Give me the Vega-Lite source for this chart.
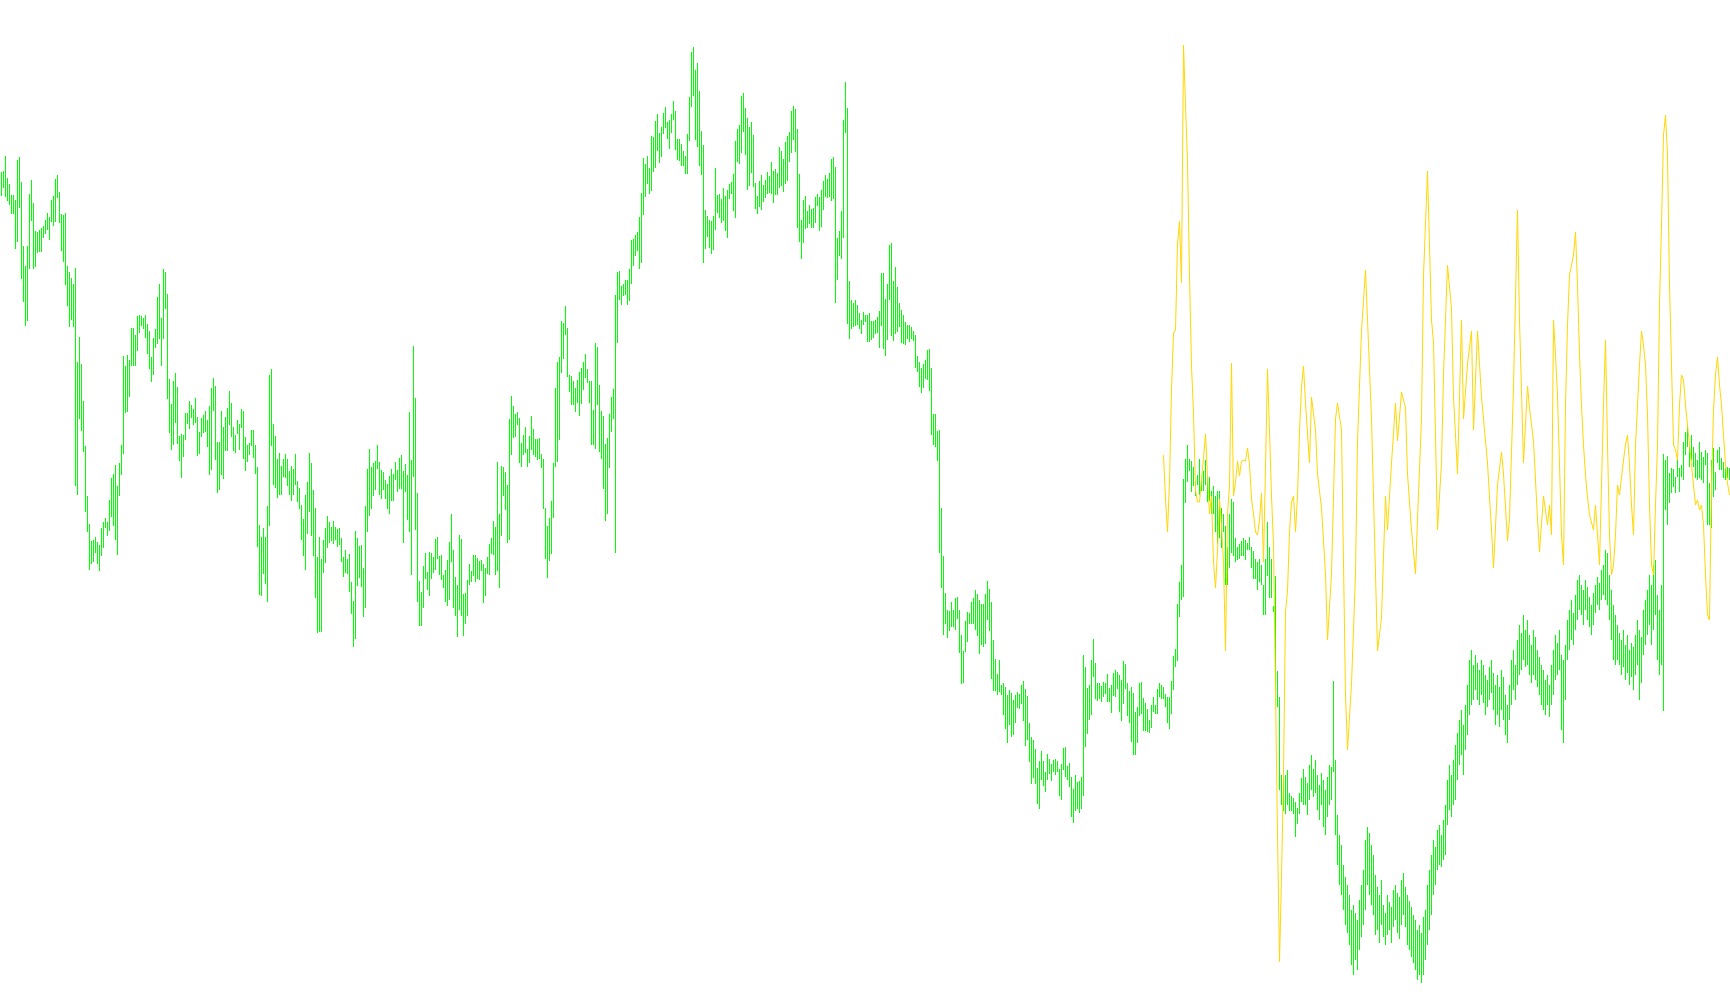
{
"$schema": "https://vega.github.io/schema/vega-lite/v6.json",
"width": 1730, "height": 1005,
"autosize": {"type": "none"},
"padding": 0,
"background": "white",
"config": {"view": {"stroke": null}},
"datasets": {
"bars": [
{"i":0,"h":833,"l":809},{"i":1,"h":834,"l":817},{"i":2,"h":849,"l":808},{"i":3,"h":827,"l":804},{"i":4,"h":821,"l":800},{"i":5,"h":810,"l":791},{"i":6,"h":810,"l":791},{"i":7,"h":805,"l":756},{"i":8,"h":845,"l":763},{"i":9,"h":848,"l":797},
{"i":10,"h":823,"l":726},{"i":11,"h":759,"l":703},{"i":12,"h":739,"l":679},{"i":13,"h":759,"l":684},{"i":14,"h":811,"l":736},{"i":15,"h":825,"l":784},{"i":16,"h":802,"l":736},{"i":17,"h":774,"l":738},{"i":18,"h":773,"l":752},{"i":19,"h":775,"l":753},
{"i":20,"h":777,"l":753},{"i":21,"h":779,"l":767},{"i":22,"h":785,"l":771},{"i":23,"h":792,"l":775},{"i":24,"h":788,"l":765},{"i":25,"h":805,"l":783},{"i":26,"h":809,"l":779},{"i":27,"h":826,"l":783},{"i":28,"h":830,"l":807},{"i":29,"h":813,"l":782},
{"i":30,"h":791,"l":754},{"i":31,"h":790,"l":743},{"i":32,"h":792,"l":720},{"i":33,"h":739,"l":699},{"i":34,"h":733,"l":678},{"i":35,"h":727,"l":685},{"i":36,"h":721,"l":678},{"i":37,"h":737,"l":519},{"i":38,"h":643,"l":510},{"i":39,"h":668,"l":586},
{"i":40,"h":641,"l":574},{"i":41,"h":604,"l":553},{"i":42,"h":559,"l":493},{"i":43,"h":509,"l":473},{"i":44,"h":481,"l":435},{"i":45,"h":464,"l":441},{"i":46,"h":465,"l":443},{"i":47,"h":468,"l":452},{"i":48,"h":463,"l":441},{"i":49,"h":460,"l":434},
{"i":50,"h":477,"l":449},{"i":51,"h":483,"l":457},{"i":52,"h":487,"l":477},{"i":53,"h":483,"l":469},{"i":54,"h":505,"l":474},{"i":55,"h":527,"l":488},{"i":56,"h":531,"l":479},{"i":57,"h":540,"l":465},{"i":58,"h":519,"l":450},{"i":59,"h":542,"l":509},
{"i":60,"h":560,"l":530},{"i":61,"h":649,"l":551},{"i":62,"h":639,"l":592},{"i":63,"h":650,"l":593},{"i":64,"h":645,"l":608},{"i":65,"h":677,"l":639},{"i":66,"h":677,"l":639},{"i":67,"h":670,"l":639},{"i":68,"h":689,"l":654},{"i":69,"h":690,"l":672},
{"i":70,"h":689,"l":679},{"i":71,"h":687,"l":676},{"i":72,"h":690,"l":667},{"i":73,"h":681,"l":651},{"i":74,"h":674,"l":636},{"i":75,"h":648,"l":623},{"i":76,"h":667,"l":630},{"i":77,"h":676,"l":657},{"i":78,"h":708,"l":661},{"i":79,"h":721,"l":666},
{"i":80,"h":687,"l":639},{"i":81,"h":736,"l":666},{"i":82,"h":733,"l":696},{"i":83,"h":711,"l":606},{"i":84,"h":626,"l":572},{"i":85,"h":601,"l":555},{"i":86,"h":624,"l":560},{"i":87,"h":632,"l":582},{"i":88,"h":618,"l":561},{"i":89,"h":569,"l":544},
{"i":90,"h":571,"l":527},{"i":91,"h":570,"l":548},{"i":92,"h":592,"l":565},{"i":93,"h":592,"l":581},{"i":94,"h":604,"l":576},{"i":95,"h":600,"l":587},{"i":96,"h":596,"l":580},{"i":97,"h":607,"l":582},{"i":98,"h":588,"l":549},{"i":99,"h":573,"l":551},
{"i":100,"h":587,"l":568},{"i":101,"h":590,"l":572},{"i":102,"h":594,"l":573},{"i":103,"h":585,"l":558},{"i":104,"h":599,"l":530},{"i":105,"h":617,"l":535},{"i":106,"h":627,"l":594},{"i":107,"h":619,"l":545},{"i":108,"h":563,"l":512},{"i":109,"h":563,"l":515},
{"i":110,"h":594,"l":530},{"i":111,"h":578,"l":526},{"i":112,"h":588,"l":554},{"i":113,"h":597,"l":554},{"i":114,"h":614,"l":580},{"i":115,"h":602,"l":568},{"i":116,"h":578,"l":554},{"i":117,"h":570,"l":552},{"i":118,"h":585,"l":571},{"i":119,"h":581,"l":555},
{"i":120,"h":596,"l":577},{"i":121,"h":594,"l":546},{"i":122,"h":568,"l":534},{"i":123,"h":560,"l":543},{"i":124,"h":562,"l":550},{"i":125,"h":575,"l":559},{"i":126,"h":575,"l":547},{"i":127,"h":560,"l":531},{"i":128,"h":538,"l":458},{"i":129,"h":480,"l":410},
{"i":130,"h":468,"l":409},{"i":131,"h":477,"l":431},{"i":132,"h":468,"l":421},{"i":133,"h":499,"l":403},{"i":134,"h":630,"l":479},{"i":135,"h":636,"l":559},{"i":136,"h":581,"l":520},{"i":137,"h":569,"l":517},{"i":138,"h":546,"l":507},{"i":139,"h":552,"l":510},
{"i":140,"h":539,"l":510},{"i":141,"h":546,"l":528},{"i":142,"h":551,"l":527},{"i":143,"h":546,"l":519},{"i":144,"h":534,"l":510},{"i":145,"h":539,"l":504},{"i":146,"h":536,"l":510},{"i":147,"h":551,"l":520},{"i":148,"h":524,"l":503},{"i":149,"h":517,"l":496},
{"i":150,"h":500,"l":465},{"i":151,"h":486,"l":449},{"i":152,"h":510,"l":435},{"i":153,"h":523,"l":471},{"i":154,"h":552,"l":493},{"i":155,"h":542,"l":469},{"i":156,"h":515,"l":449},{"i":157,"h":497,"l":407},{"i":158,"h":448,"l":372},{"i":159,"h":468,"l":373},
{"i":160,"h":446,"l":373},{"i":161,"h":465,"l":432},{"i":162,"h":477,"l":442},{"i":163,"h":489,"l":457},{"i":164,"h":483,"l":462},{"i":165,"h":478,"l":464},{"i":166,"h":484,"l":461},{"i":167,"h":478,"l":465},{"i":168,"h":476,"l":458},{"i":169,"h":477,"l":460},
{"i":170,"h":467,"l":443},{"i":171,"h":448,"l":428},{"i":172,"h":455,"l":432},{"i":173,"h":446,"l":431},{"i":174,"h":451,"l":413},{"i":175,"h":423,"l":391},{"i":176,"h":404,"l":358},{"i":177,"h":474,"l":366},{"i":178,"h":467,"l":419},{"i":179,"h":459,"l":427},
{"i":180,"h":460,"l":418},{"i":181,"h":437,"l":388},{"i":182,"h":499,"l":397},{"i":183,"h":536,"l":473},{"i":184,"h":556,"l":489},{"i":185,"h":538,"l":496},{"i":186,"h":542,"l":509},{"i":187,"h":544,"l":515},{"i":188,"h":560,"l":536},{"i":189,"h":543,"l":510},
{"i":190,"h":535,"l":506},{"i":191,"h":533,"l":515},{"i":192,"h":525,"l":506},{"i":193,"h":521,"l":496},{"i":194,"h":529,"l":491},{"i":195,"h":536,"l":504},{"i":196,"h":531,"l":504},{"i":197,"h":543,"l":525},{"i":198,"h":535,"l":513},{"i":199,"h":547,"l":516},
{"i":200,"h":550,"l":516},{"i":201,"h":534,"l":462},{"i":202,"h":541,"l":513},{"i":203,"h":530,"l":485},{"i":204,"h":593,"l":473},{"i":205,"h":545,"l":430},{"i":206,"h":659,"l":528},{"i":207,"h":607,"l":475},{"i":208,"h":512,"l":403},{"i":209,"h":424,"l":379},
{"i":210,"h":413,"l":379},{"i":211,"h":439,"l":397},{"i":212,"h":452,"l":426},{"i":213,"h":433,"l":415},{"i":214,"h":453,"l":409},{"i":215,"h":452,"l":426},{"i":216,"h":448,"l":432},{"i":217,"h":466,"l":435},{"i":218,"h":468,"l":446},{"i":219,"h":449,"l":430},
{"i":220,"h":450,"l":425},{"i":221,"h":430,"l":417},{"i":222,"h":435,"l":403},{"i":223,"h":445,"l":399},{"i":224,"h":463,"l":405},{"i":225,"h":491,"l":443},{"i":226,"h":455,"l":397},{"i":227,"h":428,"l":389},{"i":228,"h":420,"l":368},{"i":229,"h":470,"l":395},
{"i":230,"h":466,"l":389},{"i":231,"h":411,"l":369},{"i":232,"h":412,"l":381},{"i":233,"h":425,"l":389},{"i":234,"h":441,"l":420},{"i":235,"h":434,"l":423},{"i":236,"h":450,"l":429},{"i":237,"h":450,"l":423},{"i":238,"h":447,"l":426},{"i":239,"h":444,"l":425},
{"i":240,"h":445,"l":434},{"i":241,"h":441,"l":402},{"i":242,"h":437,"l":409},{"i":243,"h":448,"l":431},{"i":244,"h":461,"l":430},{"i":245,"h":467,"l":451},{"i":246,"h":484,"l":450},{"i":247,"h":478,"l":430},{"i":248,"h":543,"l":434},{"i":249,"h":491,"l":417},
{"i":250,"h":539,"l":469},{"i":251,"h":538,"l":509},{"i":252,"h":533,"l":495},{"i":253,"h":520,"l":462},{"i":254,"h":586,"l":465},{"i":255,"h":609,"l":550},{"i":256,"h":599,"l":567},{"i":257,"h":591,"l":568},{"i":258,"h":593,"l":580},{"i":259,"h":587,"l":542},
{"i":260,"h":562,"l":538},{"i":261,"h":570,"l":550},{"i":262,"h":578,"l":552},{"i":263,"h":556,"l":538},{"i":264,"h":569,"l":542},{"i":265,"h":589,"l":555},{"i":266,"h":576,"l":550},{"i":267,"h":566,"l":548},{"i":268,"h":566,"l":545},{"i":269,"h":567,"l":546},
{"i":270,"h":551,"l":537},{"i":271,"h":546,"l":496},{"i":272,"h":497,"l":446},{"i":273,"h":479,"l":427},{"i":274,"h":487,"l":444},{"i":275,"h":504,"l":451},{"i":276,"h":542,"l":487},{"i":277,"h":617,"l":538},{"i":278,"h":643,"l":543},{"i":279,"h":648,"l":565},
{"i":280,"h":684,"l":632},{"i":281,"h":682,"l":646},{"i":282,"h":699,"l":670},{"i":283,"h":677,"l":628},{"i":284,"h":630,"l":613},{"i":285,"h":629,"l":600},{"i":286,"h":624,"l":600},{"i":287,"h":617,"l":593},{"i":288,"h":625,"l":602},{"i":289,"h":633,"l":589},
{"i":290,"h":637,"l":601},{"i":291,"h":643,"l":615},{"i":292,"h":651,"l":627},{"i":293,"h":636,"l":622},{"i":294,"h":624,"l":602},{"i":295,"h":624,"l":560},{"i":296,"h":595,"l":560},{"i":297,"h":662,"l":556},{"i":298,"h":658,"l":600},{"i":299,"h":620,"l":553},
{"i":300,"h":594,"l":546},{"i":301,"h":589,"l":516},{"i":302,"h":561,"l":484},{"i":303,"h":567,"l":491},{"i":304,"h":591,"l":537},{"i":305,"h":608,"l":573},{"i":306,"h":616,"l":586},{"i":307,"h":710,"l":452},{"i":308,"h":733,"l":662},{"i":309,"h":734,"l":705},
{"i":310,"h":719,"l":700},{"i":311,"h":721,"l":709},{"i":312,"h":725,"l":710},{"i":313,"h":725,"l":700},{"i":314,"h":736,"l":704},{"i":315,"h":765,"l":721},{"i":316,"h":766,"l":739},{"i":317,"h":770,"l":749},{"i":318,"h":773,"l":754},{"i":319,"h":788,"l":736},
{"i":320,"h":812,"l":742},{"i":321,"h":847,"l":790},{"i":322,"h":841,"l":808},{"i":323,"h":849,"l":821},{"i":324,"h":837,"l":811},{"i":325,"h":869,"l":814},{"i":326,"h":868,"l":833},{"i":327,"h":884,"l":837},{"i":328,"h":891,"l":854},{"i":329,"h":872,"l":842},
{"i":330,"h":878,"l":848},{"i":331,"h":892,"l":871},{"i":332,"h":898,"l":877},{"i":333,"h":883,"l":866},{"i":334,"h":885,"l":856},{"i":335,"h":891,"l":872},{"i":336,"h":904,"l":885},{"i":337,"h":894,"l":855},{"i":338,"h":866,"l":845},{"i":339,"h":866,"l":844},
{"i":340,"h":861,"l":839},{"i":341,"h":854,"l":839},{"i":342,"h":849,"l":831},{"i":343,"h":871,"l":831},{"i":344,"h":908,"l":864},{"i":345,"h":953,"l":898},{"i":346,"h":958,"l":909},{"i":347,"h":935,"l":865},{"i":348,"h":942,"l":858},{"i":349,"h":914,"l":839},
{"i":350,"h":874,"l":830},{"i":351,"h":860,"l":742},{"i":352,"h":795,"l":756},{"i":353,"h":789,"l":768},{"i":354,"h":785,"l":757},{"i":355,"h":784,"l":751},{"i":356,"h":789,"l":755},{"i":357,"h":837,"l":775},{"i":358,"h":810,"l":792},{"i":359,"h":811,"l":787},
{"i":360,"h":806,"l":782},{"i":361,"h":817,"l":784},{"i":362,"h":809,"l":774},{"i":363,"h":815,"l":767},{"i":364,"h":821,"l":806},{"i":365,"h":823,"l":811},{"i":366,"h":831,"l":794},{"i":367,"h":864,"l":787},{"i":368,"h":876,"l":843},{"i":369,"h":880,"l":841},
{"i":370,"h":909,"l":852},{"i":371,"h":912,"l":873},{"i":372,"h":897,"l":850},{"i":373,"h":887,"l":815},{"i":374,"h":878,"l":819},{"i":375,"h":883,"l":832},{"i":376,"h":870,"l":818},{"i":377,"h":822,"l":796},{"i":378,"h":809,"l":791},{"i":379,"h":824,"l":798},
{"i":380,"h":830,"l":795},{"i":381,"h":820,"l":803},{"i":382,"h":825,"l":807},{"i":383,"h":833,"l":811},{"i":384,"h":829,"l":812},{"i":385,"h":843,"l":811},{"i":386,"h":834,"l":802},{"i":387,"h":836,"l":810},{"i":388,"h":832,"l":810},{"i":389,"h":858,"l":817},
{"i":390,"h":854,"l":819},{"i":391,"h":846,"l":813},{"i":392,"h":863,"l":821},{"i":393,"h":869,"l":824},{"i":394,"h":873,"l":843},{"i":395,"h":894,"l":852},{"i":396,"h":899,"l":865},{"i":397,"h":896,"l":853},{"i":398,"h":876,"l":777},{"i":399,"h":831,"l":763},
{"i":400,"h":785,"l":746},{"i":401,"h":805,"l":762},{"i":402,"h":809,"l":776},{"i":403,"h":794,"l":777},{"i":404,"h":800,"l":781},{"i":405,"h":796,"l":777},{"i":406,"h":797,"l":777},{"i":407,"h":808,"l":782},{"i":408,"h":811,"l":799},{"i":409,"h":808,"l":774},
{"i":410,"h":815,"l":778},{"i":411,"h":824,"l":795},{"i":412,"h":830,"l":808},{"i":413,"h":826,"l":807},{"i":414,"h":832,"l":808},{"i":415,"h":846,"l":804},{"i":416,"h":848,"l":806},{"i":417,"h":838,"l":702},{"i":418,"h":767,"l":725},{"i":419,"h":774,"l":749},
{"i":420,"h":794,"l":746},{"i":421,"h":885,"l":767},{"i":422,"h":923,"l":872},{"i":423,"h":897,"l":681},{"i":424,"h":724,"l":666},{"i":425,"h":705,"l":676},{"i":426,"h":702,"l":678},{"i":427,"h":705,"l":679},{"i":428,"h":700,"l":680},{"i":429,"h":692,"l":676},
{"i":430,"h":685,"l":671},{"i":431,"h":693,"l":680},{"i":432,"h":690,"l":683},{"i":433,"h":690,"l":663},{"i":434,"h":692,"l":663},{"i":435,"h":684,"l":665},{"i":436,"h":684,"l":667},{"i":437,"h":685,"l":671},{"i":438,"h":688,"l":672},{"i":439,"h":694,"l":657},
{"i":440,"h":732,"l":679},{"i":441,"h":732,"l":656},{"i":442,"h":706,"l":649},{"i":443,"h":721,"l":665},{"i":444,"h":760,"l":705},{"i":445,"h":762,"l":669},{"i":446,"h":724,"l":664},{"i":447,"h":738,"l":671},{"i":448,"h":718,"l":673},{"i":449,"h":702,"l":678},
{"i":450,"h":695,"l":662},{"i":451,"h":690,"l":661},{"i":452,"h":683,"l":660},{"i":453,"h":680,"l":666},{"i":454,"h":680,"l":663},{"i":455,"h":678,"l":666},{"i":456,"h":674,"l":664},{"i":457,"h":670,"l":637},{"i":458,"h":649,"l":633},{"i":459,"h":643,"l":618},
{"i":460,"h":637,"l":612},{"i":461,"h":641,"l":617},{"i":462,"h":645,"l":626},{"i":463,"h":655,"l":625},{"i":464,"h":656,"l":614},{"i":465,"h":637,"l":570},{"i":466,"h":591,"l":560},{"i":467,"h":591,"l":558},{"i":468,"h":574,"l":544},{"i":469,"h":575,"l":452},
{"i":470,"h":497,"l":417},{"i":471,"h":449,"l":370},{"i":472,"h":412,"l":381},{"i":473,"h":395,"l":367},{"i":474,"h":394,"l":374},{"i":475,"h":403,"l":378},{"i":476,"h":395,"l":378},{"i":477,"h":407,"l":375},{"i":478,"h":408,"l":386},{"i":479,"h":395,"l":352},
{"i":480,"h":370,"l":321},{"i":481,"h":354,"l":322},{"i":482,"h":384,"l":353},{"i":483,"h":393,"l":363},{"i":484,"h":392,"l":381},{"i":485,"h":403,"l":381},{"i":486,"h":407,"l":381},{"i":487,"h":415,"l":375},{"i":488,"h":411,"l":369},{"i":489,"h":405,"l":351},
{"i":490,"h":401,"l":360},{"i":491,"h":401,"l":358},{"i":492,"h":411,"l":361},{"i":493,"h":424,"l":385},{"i":494,"h":416,"l":374},{"i":495,"h":403,"l":326},{"i":496,"h":365,"l":314},{"i":497,"h":346,"l":314},{"i":498,"h":331,"l":310},{"i":499,"h":345,"l":313},
{"i":500,"h":320,"l":310},{"i":501,"h":322,"l":290},{"i":502,"h":318,"l":276},{"i":503,"h":310,"l":262},{"i":504,"h":315,"l":280},{"i":505,"h":312,"l":268},{"i":506,"h":305,"l":270},{"i":507,"h":310,"l":282},{"i":508,"h":313,"l":297},{"i":509,"h":311,"l":296},
{"i":510,"h":320,"l":301},{"i":511,"h":324,"l":284},{"i":512,"h":316,"l":259},{"i":513,"h":309,"l":265},{"i":514,"h":282,"l":243},{"i":515,"h":268,"l":221},{"i":516,"h":265,"l":227},{"i":517,"h":256,"l":221},{"i":518,"h":237,"l":201},{"i":519,"h":244,"l":196},
{"i":520,"h":254,"l":225},{"i":521,"h":244,"l":219},{"i":522,"h":233,"l":213},{"i":523,"h":251,"l":225},{"i":524,"h":246,"l":231},{"i":525,"h":241,"l":224},{"i":526,"h":245,"l":233},{"i":527,"h":246,"l":230},{"i":528,"h":244,"l":233},{"i":529,"h":236,"l":209},
{"i":530,"h":241,"l":205},{"i":531,"h":257,"l":235},{"i":532,"h":258,"l":228},{"i":533,"h":239,"l":225},{"i":534,"h":242,"l":218},{"i":535,"h":228,"l":188},{"i":536,"h":216,"l":182},{"i":537,"h":230,"l":194},{"i":538,"h":223,"l":196},{"i":539,"h":224,"l":192},
{"i":540,"h":228,"l":196},{"i":541,"h":350,"l":209},{"i":542,"h":338,"l":258},{"i":543,"h":317,"l":271},{"i":544,"h":320,"l":285},{"i":545,"h":345,"l":290},{"i":546,"h":366,"l":328},{"i":547,"h":342,"l":306},{"i":548,"h":322,"l":304},{"i":549,"h":322,"l":306},
{"i":550,"h":319,"l":303},{"i":551,"h":323,"l":308},{"i":552,"h":322,"l":311},{"i":553,"h":331,"l":303},{"i":554,"h":317,"l":303},{"i":555,"h":320,"l":292},{"i":556,"h":332,"l":309},{"i":557,"h":335,"l":308},{"i":558,"h":333,"l":316},{"i":559,"h":330,"l":293},
{"i":560,"h":325,"l":284},{"i":561,"h":344,"l":301},{"i":562,"h":341,"l":316},{"i":563,"h":322,"l":289},{"i":564,"h":314,"l":282},{"i":565,"h":318,"l":263},{"i":566,"h":312,"l":250},{"i":567,"h":293,"l":250},{"i":568,"h":298,"l":262},{"i":569,"h":322,"l":289},
{"i":570,"h":323,"l":291},{"i":571,"h":307,"l":274},{"i":572,"h":302,"l":274},{"i":573,"h":296,"l":273},{"i":574,"h":285,"l":272},{"i":575,"h":300,"l":277},{"i":576,"h":308,"l":293},{"i":577,"h":300,"l":291},{"i":578,"h":316,"l":291},{"i":579,"h":322,"l":308},
{"i":580,"h":320,"l":306},{"i":581,"h":318,"l":306},{"i":582,"h":311,"l":298},{"i":583,"h":308,"l":282},{"i":584,"h":308,"l":276},{"i":585,"h":324,"l":291},{"i":586,"h":349,"l":315},{"i":587,"h":356,"l":338},{"i":588,"h":401,"l":344},{"i":589,"h":423,"l":388},
{"i":590,"h":440,"l":405},{"i":591,"h":526,"l":408},{"i":592,"h":546,"l":502},{"i":593,"h":560,"l":523},{"i":594,"h":546,"l":534},{"i":595,"h":544,"l":513},{"i":596,"h":538,"l":519},{"i":597,"h":523,"l":509},{"i":598,"h":530,"l":520},{"i":599,"h":546,"l":510},
{"i":600,"h":526,"l":514},{"i":601,"h":534,"l":514},{"i":602,"h":545,"l":520},{"i":603,"h":529,"l":503},{"i":604,"h":528,"l":504},{"i":605,"h":514,"l":491},{"i":606,"h":519,"l":491},{"i":607,"h":509,"l":473},{"i":608,"h":514,"l":461},{"i":609,"h":514,"l":467},
{"i":610,"h":497,"l":457},{"i":611,"h":491,"l":473},{"i":612,"h":479,"l":420},{"i":613,"h":458,"l":420},{"i":614,"h":491,"l":437},{"i":615,"h":506,"l":452},{"i":616,"h":503,"l":449},{"i":617,"h":467,"l":443},{"i":618,"h":458,"l":445},{"i":619,"h":461,"l":446},
{"i":620,"h":464,"l":449},{"i":621,"h":467,"l":449},{"i":622,"h":465,"l":445},{"i":623,"h":462,"l":455},{"i":624,"h":468,"l":455},{"i":625,"h":458,"l":437},{"i":626,"h":454,"l":426},{"i":627,"h":446,"l":426},{"i":628,"h":443,"l":415},{"i":629,"h":446,"l":423},
{"i":630,"h":440,"l":420},{"i":631,"h":420,"l":390},{"i":632,"h":446,"l":390},{"i":633,"h":483,"l":429},{"i":634,"h":458,"l":407},{"i":635,"h":446,"l":407},{"i":636,"h":399,"l":393},{"i":637,"h":429,"l":319},{"i":638,"h":334,"l":298},{"i":639,"h":308,"l":215},
{"i":640,"h":230,"l":200},{"i":641,"h":230,"l":194},{"i":642,"h":230,"l":191},{"i":643,"h":235,"l":200},{"i":644,"h":212,"l":194},{"i":645,"h":209,"l":194},{"i":646,"h":207,"l":191},{"i":647,"h":203,"l":168},{"i":648,"h":197,"l":181},{"i":649,"h":212,"l":191},
{"i":650,"h":227,"l":203},{"i":651,"h":236,"l":200},{"i":652,"h":228,"l":200},{"i":653,"h":222,"l":190},{"i":654,"h":240,"l":205},{"i":655,"h":250,"l":215},{"i":656,"h":236,"l":208},{"i":657,"h":245,"l":212},{"i":658,"h":230,"l":195},{"i":659,"h":220,"l":185},
{"i":660,"h":232,"l":200},{"i":661,"h":225,"l":178},{"i":662,"h":215,"l":170},{"i":663,"h":228,"l":188},{"i":664,"h":240,"l":200},{"i":665,"h":238,"l":205},{"i":666,"h":324,"l":233},{"i":667,"h":245,"l":170},{"i":668,"h":190,"l":140},{"i":669,"h":170,"l":120},
{"i":670,"h":160,"l":110},{"i":671,"h":140,"l":95},{"i":672,"h":128,"l":80},{"i":673,"h":120,"l":72},{"i":674,"h":110,"l":60},{"i":675,"h":95,"l":40},{"i":676,"h":100,"l":30},{"i":677,"h":92,"l":45},{"i":678,"h":85,"l":35},{"i":679,"h":105,"l":55},
{"i":680,"h":120,"l":68},{"i":681,"h":135,"l":80},{"i":682,"h":165,"l":95},{"i":683,"h":178,"l":120},{"i":684,"h":172,"l":110},{"i":685,"h":160,"l":100},{"i":686,"h":150,"l":90},{"i":687,"h":130,"l":70},{"i":688,"h":118,"l":75},{"i":689,"h":110,"l":62},
{"i":690,"h":125,"l":80},{"i":691,"h":100,"l":68},{"i":692,"h":92,"l":60},{"i":693,"h":110,"l":70},{"i":694,"h":103,"l":75},{"i":695,"h":98,"l":62},{"i":696,"h":115,"l":78},{"i":697,"h":120,"l":85},{"i":698,"h":112,"l":72},{"i":699,"h":108,"l":66},
{"i":700,"h":125,"l":80},{"i":701,"h":132,"l":90},{"i":702,"h":118,"l":78},{"i":703,"h":110,"l":60},{"i":704,"h":104,"l":55},{"i":705,"h":98,"l":48},{"i":706,"h":90,"l":42},{"i":707,"h":85,"l":35},{"i":708,"h":75,"l":25},{"i":709,"h":80,"l":30},
{"i":710,"h":72,"l":22},{"i":711,"h":88,"l":30},{"i":712,"h":95,"l":45},{"i":713,"h":120,"l":60},{"i":714,"h":135,"l":75},{"i":715,"h":150,"l":90},{"i":716,"h":165,"l":110},{"i":717,"h":158,"l":120},{"i":718,"h":175,"l":135},{"i":719,"h":180,"l":140},
{"i":720,"h":170,"l":138},{"i":721,"h":185,"l":145},{"i":722,"h":200,"l":150},{"i":723,"h":225,"l":180},{"i":724,"h":240,"l":195},{"i":725,"h":230,"l":188},{"i":726,"h":245,"l":200},{"i":727,"h":260,"l":205},{"i":728,"h":272,"l":225},{"i":729,"h":285,"l":240},
{"i":730,"h":295,"l":250},{"i":731,"h":280,"l":230},{"i":732,"h":300,"l":255},{"i":733,"h":320,"l":270},{"i":734,"h":345,"l":290},{"i":735,"h":355,"l":300},{"i":736,"h":340,"l":305},{"i":737,"h":350,"l":315},{"i":738,"h":342,"l":305},{"i":739,"h":335,"l":300},
{"i":740,"h":345,"l":310},{"i":741,"h":340,"l":302},{"i":742,"h":330,"l":290},{"i":743,"h":325,"l":298},{"i":744,"h":338,"l":305},{"i":745,"h":345,"l":312},{"i":746,"h":332,"l":295},{"i":747,"h":320,"l":280},{"i":748,"h":330,"l":290},{"i":749,"h":318,"l":278},
{"i":750,"h":335,"l":295},{"i":751,"h":328,"l":285},{"i":752,"h":310,"l":270},{"i":753,"h":300,"l":262},{"i":754,"h":320,"l":285},{"i":755,"h":345,"l":300},{"i":756,"h":355,"l":315},{"i":757,"h":340,"l":305},{"i":758,"h":365,"l":320},{"i":759,"h":380,"l":330},
{"i":760,"h":372,"l":335},{"i":761,"h":390,"l":345},{"i":762,"h":375,"l":338},{"i":763,"h":385,"l":340},{"i":764,"h":370,"l":330},{"i":765,"h":360,"l":322},{"i":766,"h":375,"l":330},{"i":767,"h":368,"l":325},{"i":768,"h":355,"l":318},{"i":769,"h":348,"l":310},
{"i":770,"h":340,"l":300},{"i":771,"h":335,"l":295},{"i":772,"h":325,"l":290},{"i":773,"h":330,"l":300},{"i":774,"h":320,"l":288},{"i":775,"h":340,"l":300},{"i":776,"h":355,"l":310},{"i":777,"h":370,"l":325},{"i":778,"h":362,"l":330},{"i":779,"h":375,"l":335},
{"i":780,"h":350,"l":275},{"i":781,"h":345,"l":262},{"i":782,"h":360,"l":305},{"i":783,"h":385,"l":345},{"i":784,"h":395,"l":355},{"i":785,"h":405,"l":365},{"i":786,"h":392,"l":360},{"i":787,"h":410,"l":375},{"i":788,"h":425,"l":385},{"i":789,"h":430,"l":395},
{"i":790,"h":420,"l":390},{"i":791,"h":415,"l":380},{"i":792,"h":425,"l":395},{"i":793,"h":418,"l":385},{"i":794,"h":408,"l":378},{"i":795,"h":400,"l":370},{"i":796,"h":412,"l":380},{"i":797,"h":420,"l":392},{"i":798,"h":428,"l":400},{"i":799,"h":422,"l":395},
{"i":800,"h":435,"l":405},{"i":801,"h":440,"l":410},{"i":802,"h":455,"l":405},{"i":803,"h":452,"l":400},{"i":804,"h":430,"l":385},{"i":805,"h":415,"l":365},{"i":806,"h":400,"l":345},{"i":807,"h":390,"l":340},{"i":808,"h":380,"l":345},{"i":809,"h":372,"l":340},
{"i":810,"h":365,"l":330},{"i":811,"h":375,"l":338},{"i":812,"h":360,"l":325},{"i":813,"h":370,"l":332},{"i":814,"h":355,"l":320},{"i":815,"h":362,"l":328},{"i":816,"h":358,"l":315},{"i":817,"h":370,"l":330},{"i":818,"h":385,"l":340},{"i":819,"h":375,"l":305},
{"i":820,"h":368,"l":322},{"i":821,"h":395,"l":350},{"i":822,"h":405,"l":360},{"i":823,"h":415,"l":370},{"i":824,"h":430,"l":380},{"i":825,"h":420,"l":360},{"i":826,"h":440,"l":375},{"i":827,"h":445,"l":390},{"i":828,"h":410,"l":345},{"i":829,"h":395,"l":330},
{"i":830,"h":420,"l":340},{"i":831,"h":551,"l":294},{"i":832,"h":545,"l":495},{"i":833,"h":549,"l":480},{"i":834,"h":532,"l":502},{"i":835,"h":537,"l":512},{"i":836,"h":536,"l":518},{"i":837,"h":528,"l":512},{"i":838,"h":545,"l":528},{"i":839,"h":537,"l":513},
{"i":840,"h":540,"l":528},{"i":841,"h":563,"l":525},{"i":842,"h":573,"l":550},{"i":843,"h":580,"l":558},{"i":844,"h":558,"l":538},{"i":845,"h":570,"l":545},{"i":846,"h":558,"l":538},{"i":847,"h":552,"l":527},{"i":848,"h":545,"l":525},{"i":849,"h":563,"l":527},
{"i":850,"h":553,"l":525},{"i":851,"h":548,"l":522},{"i":852,"h":555,"l":540},{"i":853,"h":552,"l":480},{"i":854,"h":522,"l":480},{"i":855,"h":545,"l":477},{"i":856,"h":557,"l":508},{"i":857,"h":533,"l":515},{"i":858,"h":555,"l":542},{"i":859,"h":558,"l":535},
{"i":860,"h":547,"l":535},{"i":861,"h":543,"l":527},{"i":862,"h":537,"l":525},{"i":863,"h":538,"l":527},{"i":864,"h":537,"l":525}
],
"line": [
{"i":581,"v":550},{"i":582,"v":506},{"i":583,"v":473},{"i":584,"v":523},{"i":585,"v":615},{"i":586,"v":672},{"i":587,"v":675},{"i":588,"v":760},{"i":589,"v":784},{"i":590,"v":722},
{"i":591,"v":960},{"i":592,"v":900},{"i":593,"v":843},{"i":594,"v":731},{"i":595,"v":639},{"i":596,"v":592},{"i":597,"v":515},{"i":598,"v":503},{"i":599,"v":503},{"i":600,"v":526},
{"i":601,"v":547},{"i":602,"v":571},{"i":603,"v":529},{"i":604,"v":491},{"i":605,"v":509},{"i":606,"v":443},{"i":607,"v":417},{"i":608,"v":455},{"i":609,"v":506},{"i":610,"v":479},
{"i":611,"v":443},{"i":612,"v":354},{"i":613,"v":491},{"i":614,"v":520},{"i":615,"v":642},{"i":616,"v":509},{"i":617,"v":523},{"i":618,"v":544},{"i":619,"v":529},{"i":620,"v":544},
{"i":621,"v":545},{"i":622,"v":544},{"i":623,"v":557},{"i":624,"v":541},{"i":625,"v":506},{"i":626,"v":491},{"i":627,"v":473},{"i":628,"v":470},{"i":629,"v":485},{"i":630,"v":512},
{"i":631,"v":443},{"i":632,"v":538},{"i":633,"v":636},{"i":634,"v":574},{"i":635,"v":509},{"i":636,"v":461},{"i":637,"v":313},{"i":638,"v":171},{"i":639,"v":43},{"i":640,"v":129},
{"i":641,"v":230},{"i":642,"v":393},{"i":643,"v":414},{"i":644,"v":473},{"i":645,"v":503},{"i":646,"v":509},{"i":647,"v":473},{"i":648,"v":509},{"i":649,"v":574},{"i":650,"v":618},
{"i":651,"v":639},{"i":652,"v":602},{"i":654,"v":542},{"i":655,"v":608},{"i":657,"v":575},{"i":658,"v":531},{"i":660,"v":497},{"i":662,"v":431},{"i":663,"v":365},{"i":665,"v":431},
{"i":667,"v":586},{"i":668,"v":602},{"i":670,"v":575},{"i":672,"v":310},{"i":673,"v":255},{"i":675,"v":321},{"i":677,"v":431},{"i":678,"v":564},{"i":680,"v":674},{"i":682,"v":735},
{"i":683,"v":685},{"i":685,"v":586},{"i":687,"v":431},{"i":688,"v":354},{"i":690,"v":387},{"i":692,"v":509},{"i":693,"v":475},{"i":695,"v":542},{"i":697,"v":602},{"i":698,"v":564},
{"i":700,"v":613},{"i":702,"v":597},{"i":703,"v":531},{"i":705,"v":475},{"i":707,"v":431},{"i":708,"v":486},{"i":710,"v":586},{"i":711,"v":729},{"i":713,"v":834},{"i":715,"v":685},
{"i":716,"v":663},{"i":718,"v":475},{"i":720,"v":542},{"i":721,"v":630},{"i":723,"v":740},{"i":725,"v":696},{"i":726,"v":608},{"i":728,"v":531},{"i":730,"v":685},{"i":731,"v":586},
{"i":733,"v":641},{"i":735,"v":674},{"i":736,"v":575},{"i":738,"v":674},{"i":740,"v":608},{"i":741,"v":586},{"i":743,"v":542},{"i":745,"v":475},{"i":746,"v":437},{"i":748,"v":520},
{"i":750,"v":553},{"i":751,"v":531},{"i":753,"v":464},{"i":754,"v":486},{"i":756,"v":619},{"i":758,"v":795},{"i":759,"v":685},{"i":761,"v":542},{"i":763,"v":619},{"i":764,"v":597},
{"i":766,"v":564},{"i":768,"v":486},{"i":769,"v":453},{"i":771,"v":509},{"i":773,"v":480},{"i":774,"v":500},{"i":775,"v":470},{"i":776,"v":685},{"i":777,"v":650},{"i":778,"v":610},
{"i":779,"v":540},{"i":780,"v":470},{"i":781,"v":440},{"i":782,"v":600},{"i":783,"v":680},{"i":784,"v":730},{"i":786,"v":750},{"i":787,"v":773},{"i":788,"v":720},{"i":789,"v":650},
{"i":790,"v":600},{"i":791,"v":560},{"i":792,"v":530},{"i":793,"v":508},{"i":794,"v":490},{"i":796,"v":475},{"i":797,"v":500},{"i":798,"v":470},{"i":799,"v":440},{"i":800,"v":520},
{"i":801,"v":600},{"i":802,"v":665},{"i":803,"v":560},{"i":804,"v":470},{"i":805,"v":430},{"i":806,"v":440},{"i":807,"v":470},{"i":808,"v":520},{"i":809,"v":510},{"i":811,"v":545},
{"i":812,"v":560},{"i":813,"v":570},{"i":814,"v":540},{"i":815,"v":500},{"i":816,"v":470},{"i":817,"v":560},{"i":818,"v":600},{"i":819,"v":640},{"i":820,"v":674},{"i":821,"v":660},
{"i":822,"v":640},{"i":823,"v":590},{"i":824,"v":500},{"i":825,"v":440},{"i":826,"v":430},{"i":827,"v":500},{"i":828,"v":560},{"i":829,"v":700},{"i":830,"v":780},{"i":831,"v":870},
{"i":832,"v":890},{"i":833,"v":850},{"i":834,"v":720},{"i":835,"v":640},{"i":836,"v":560},{"i":837,"v":555},{"i":838,"v":545},{"i":839,"v":600},{"i":840,"v":630},{"i":841,"v":625},
{"i":842,"v":600},{"i":843,"v":580},{"i":844,"v":560},{"i":845,"v":540},{"i":846,"v":520},{"i":847,"v":500},{"i":848,"v":505},{"i":849,"v":495},{"i":850,"v":500},{"i":851,"v":480},
{"i":852,"v":430},{"i":853,"v":390},{"i":854,"v":385},{"i":855,"v":520},{"i":856,"v":595},{"i":857,"v":630},{"i":858,"v":648},{"i":859,"v":620},{"i":860,"v":600},{"i":861,"v":570},
{"i":862,"v":540},{"i":863,"v":522},{"i":864,"v":510}
]
},
"layer": [
{
"data": {"name": "bars"},
"mark": {"type": "rule", "strokeWidth": 1, "color": "#00FF00"},
"encoding": {
"x": {"field": "i", "type": "quantitative", "scale": {"domain": [-0.75, 864.25], "nice": false, "zero": false}, "axis": null},
"y": {"field": "h", "type": "quantitative", "scale": {"domain": [0, 1005], "nice": false, "zero": false}, "axis": null},
"y2": {"field": "l"}
}
},
{
"data": {"name": "line"},
"mark": {"type": "line", "strokeWidth": 1, "color": "#FFD700"},
"encoding": {
"x": {"field": "i", "type": "quantitative", "scale": {"domain": [-0.75, 864.25], "nice": false, "zero": false}, "axis": null},
"y": {"field": "v", "type": "quantitative", "scale": {"domain": [0, 1005], "nice": false, "zero": false}, "axis": null}
}
}
]
}
